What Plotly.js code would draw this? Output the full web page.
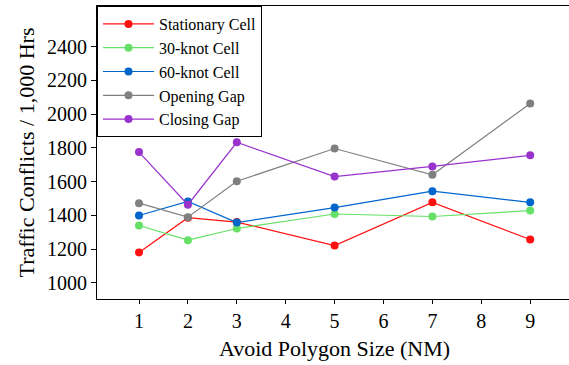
<!DOCTYPE html>
<html>
<head>
<meta charset="utf-8">
<script src="https://cdn.plot.ly/plotly-3.0.1.min.js"></script>
<style>
html,body{margin:0;padding:0;overflow:hidden;background:#fff;}
#chart text{font-family:'Liberation Serif', serif !important;}
</style>
</head>
<body>
<div id="chart"></div>
<script>
var sizes = [1, 2, 3, 5, 7, 9];
var seriesNames = ["Stationary Cell", "30-knot Cell", "60-knot Cell", "Opening Gap", "Closing Gap"];
var stationary = [1180, 1386, 1360, 1221, 1477, 1257];
var knot30 = [1340, 1253, 1322, 1408, 1393, 1428];
var knot60 = [1399, 1482, 1357, 1446, 1543, 1477];
var openingGap = [1472, 1389, 1602, 1796, 1640, 2063];
var closingGap = [1775, 1463, 1833, 1630, 1690, 1756];
var colors = ["#ff1010", "#66e066", "#0066cc", "#808080", "#9933cc"];
var xTicks = [1, 2, 3, 4, 5, 6, 7, 8, 9];
var yTicks = [1000, 1200, 1400, 1600, 1800, 2000, 2200, 2400];

var allSeries = [stationary, knot30, knot60, openingGap, closingGap];
var traces = allSeries.map(function(vals, i) {
  return {
    x: sizes,
    y: vals,
    name: seriesNames[i],
    type: "scatter",
    mode: "lines+markers",
    line: {color: colors[i], width: 1.2},
    marker: {color: colors[i], size: 8}
  };
});

var font = "Liberation Serif";
var layout = {
  width: 575,
  height: 365,
  margin: {l: 97, r: 3, t: 6, b: 66},
  paper_bgcolor: "#fff",
  plot_bgcolor: "#fff",
  font: {family: font, color: "#000", size: 20},
  showlegend: true,
  legend: {
    x: 0, y: 1, xanchor: "left", yanchor: "top",
    bgcolor: "#fff", bordercolor: "#000", borderwidth: 1,
    font: {family: font, size: 16, color: "#000"},
    itemwidth: 51,
    tracegroupgap: 0
  },
  xaxis: {
    range: [0.141, 9.855],
    tickvals: xTicks,
    ticktext: xTicks.map(String),
    showgrid: false, zeroline: false,
    showline: true, linecolor: "#000", linewidth: 1.2, mirror: true,
    ticks: "outside", ticklen: 4, tickcolor: "#000",
    tickfont: {family: font, size: 20, color: "#000"},
    title: {text: "Avoid Polygon Size (NM)", font: {family: font, size: 22, color: "#000"}, standoff: 9}
  },
  yaxis: {
    range: [904, 2641],
    tickvals: yTicks,
    ticktext: yTicks.map(String),
    showgrid: false, zeroline: false,
    showline: true, linecolor: "#000", linewidth: 1.2, mirror: true,
    ticks: "outside", ticklen: 5, tickcolor: "#000",
    tickfont: {family: font, size: 20, color: "#000"},
    title: {text: "Traffic Conflicts / 1,000 Hrs", font: {family: font, size: 22, color: "#000"}, standoff: 6}
  }
};

Plotly.newPlot("chart", traces, layout, {displayModeBar: false});
</script>
</body>
</html>
